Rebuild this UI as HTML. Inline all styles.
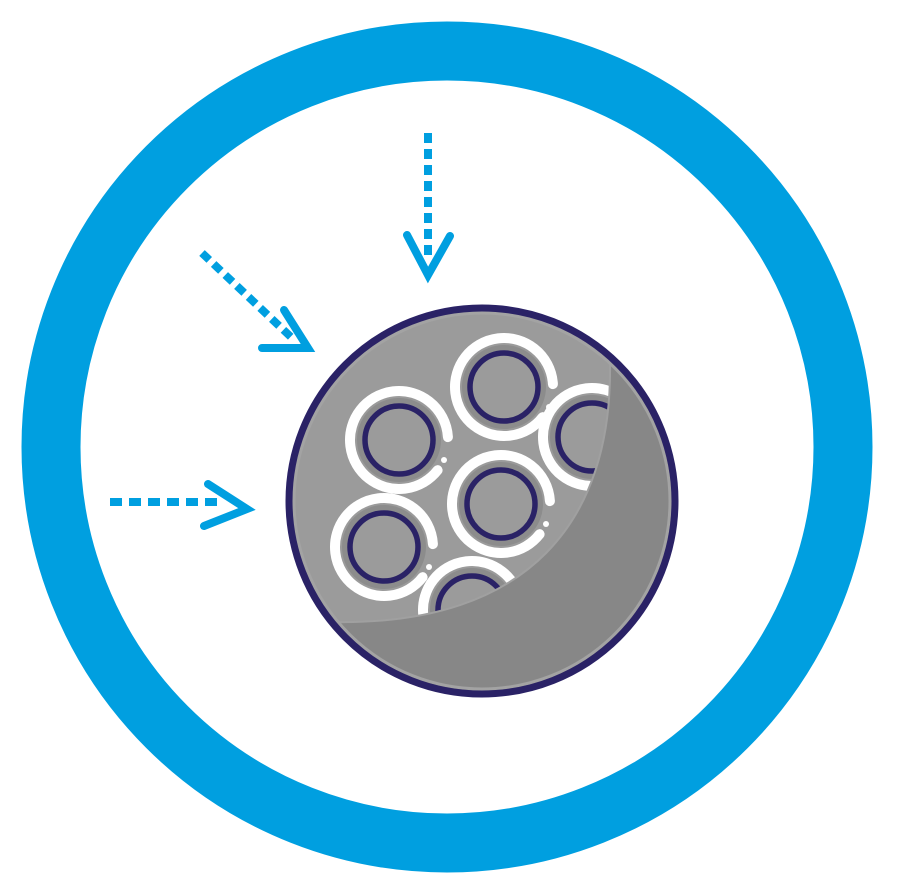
<!DOCTYPE html>
<html><head><style>html,body{margin:0;padding:0;background:#fff;}svg{display:block}</style></head>
<body>
<svg width="904" height="877" viewBox="0 0 904 877" xmlns="http://www.w3.org/2000/svg">
<circle cx="447" cy="447" r="396" fill="none" stroke="#009fe0" stroke-width="59"/>
<defs><clipPath id="ball"><circle cx="482" cy="501" r="190"/></clipPath>
<g id="cell">
<circle r="40" fill="#9b9b9b"/>
<circle r="39" fill="none" stroke="#8c8c8c" stroke-width="6"/>
<circle r="34" fill="none" stroke="#2a2266" stroke-width="5.5"/>
<circle r="49" fill="none" stroke="#fff" stroke-width="10" stroke-linecap="round" stroke-dasharray="272 36" transform="rotate(38)"/>
<circle cx="45" cy="20" r="3" fill="#fff"/>
</g></defs>
<circle cx="482" cy="501" r="193" fill="#9b9b9b"/>
<g clip-path="url(#ball)">
<use href="#cell" x="504" y="387"/>
<use href="#cell" x="399" y="440"/>
<use href="#cell" x="592" y="437"/>
<use href="#cell" x="501" y="504"/>
<use href="#cell" x="384" y="547"/>
<use href="#cell" x="472" y="610"/>
<path d="M610,365 C612,520 530,625 335,622 L300,700 L700,700 L700,360 Z" fill="#878787"/>
<path d="M610,365 C612,520 530,625 335,622 L300,700 L700,700 L700,360 Z" fill="none" stroke="#a0a0a0" stroke-width="2"/>
</g>
<circle cx="482" cy="501" r="188" fill="none" stroke="#a3a3a3" stroke-width="3" clip-path="url(#ball)"/>
<circle cx="482" cy="501" r="193" fill="none" stroke="#2a2266" stroke-width="7"/>
<g stroke="#009fe0" stroke-width="8" fill="none">
<line x1="428" y1="133" x2="428" y2="255" stroke-dasharray="10 6"/>
<polyline points="407,235 428,275 450,236" stroke-linecap="round" stroke-linejoin="miter"/>
<line x1="202" y1="253" x2="292" y2="338" stroke-dasharray="10 6"/>
<polyline points="284,310 308,348 262,348" stroke-linecap="round"/>
<line x1="110" y1="502" x2="218" y2="502" stroke-dasharray="12 7"/>
<polyline points="208,484 247,509 204,526" stroke-linecap="round"/>
</g>
</svg>
</body></html>
